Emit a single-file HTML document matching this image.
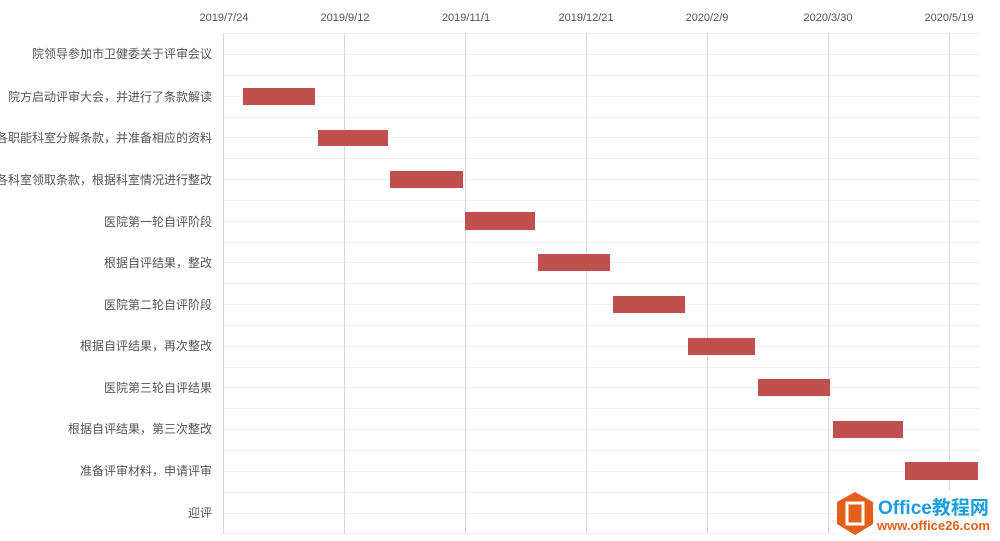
<!DOCTYPE html>
<html><head><meta charset="utf-8"><style>
html,body{margin:0;padding:0;background:#fff;}
svg{display:block;}
text{font-family:"Liberation Sans","Noto Sans CJK SC",sans-serif;}
</style></head><body>
<svg width="1000" height="541" viewBox="0 0 1000 541" xmlns="http://www.w3.org/2000/svg">
<rect width="1000" height="541" fill="#fff"/>
<g stroke="#f0f0f0" stroke-width="1">
<line x1="223" y1="33.5" x2="980" y2="33.5"/>
<line x1="223" y1="54.5" x2="980" y2="54.5"/><line x1="223" y1="75.5" x2="980" y2="75.5"/>
<line x1="223" y1="96.5" x2="980" y2="96.5"/><line x1="223" y1="117.5" x2="980" y2="117.5"/>
<line x1="223" y1="137.5" x2="980" y2="137.5"/><line x1="223" y1="158.5" x2="980" y2="158.5"/>
<line x1="223" y1="179.5" x2="980" y2="179.5"/><line x1="223" y1="200.5" x2="980" y2="200.5"/>
<line x1="223" y1="221.5" x2="980" y2="221.5"/><line x1="223" y1="242.5" x2="980" y2="242.5"/>
<line x1="223" y1="262.5" x2="980" y2="262.5"/><line x1="223" y1="283.5" x2="980" y2="283.5"/>
<line x1="223" y1="304.5" x2="980" y2="304.5"/><line x1="223" y1="325.5" x2="980" y2="325.5"/>
<line x1="223" y1="346.5" x2="980" y2="346.5"/><line x1="223" y1="367.5" x2="980" y2="367.5"/>
<line x1="223" y1="387.5" x2="980" y2="387.5"/><line x1="223" y1="408.5" x2="980" y2="408.5"/>
<line x1="223" y1="429.5" x2="980" y2="429.5"/><line x1="223" y1="450.5" x2="980" y2="450.5"/>
<line x1="223" y1="471.5" x2="980" y2="471.5"/><line x1="223" y1="492.5" x2="980" y2="492.5"/>
<line x1="223" y1="513.5" x2="980" y2="513.5"/><line x1="223" y1="533.5" x2="980" y2="533.5"/>
</g>
<g stroke="#d9d9d9" stroke-width="1">
<line x1="223.5" y1="33" x2="223.5" y2="534"/>
<line x1="344.5" y1="33" x2="344.5" y2="534"/>
<line x1="465.5" y1="33" x2="465.5" y2="534"/>
<line x1="586.5" y1="33" x2="586.5" y2="534"/>
<line x1="707.5" y1="33" x2="707.5" y2="534"/>
<line x1="828.5" y1="33" x2="828.5" y2="534"/>
<line x1="949.5" y1="33" x2="949.5" y2="534"/>
</g>
<g font-size="11" fill="#555" text-anchor="middle">
<text x="224" y="21">2019/7/24</text>
<text x="345" y="21">2019/9/12</text>
<text x="466" y="21">2019/11/1</text>
<text x="586" y="21">2019/12/21</text>
<text x="707" y="21">2020/2/9</text>
<text x="828" y="21">2020/3/30</text>
<text x="949" y="21">2020/5/19</text>
</g>
<g font-size="12" fill="#555" text-anchor="end">
<text x="212" y="58">院领导参加市卫健委关于评审会议</text>
<text x="212" y="101">院方启动评审大会，并进行了条款解读</text>
<text x="212" y="142">各职能科室分解条款，并准备相应的资料</text>
<text x="212" y="184">各科室领取条款，根据科室情况进行整改</text>
<text x="212" y="226">医院第一轮自评阶段</text>
<text x="212" y="267">根据自评结果，整改</text>
<text x="212" y="309">医院第二轮自评阶段</text>
<text x="212" y="350">根据自评结果，再次整改</text>
<text x="212" y="392">医院第三轮自评结果</text>
<text x="212" y="433">根据自评结果，第三次整改</text>
<text x="212" y="475">准备评审材料，申请评审</text>
<text x="212" y="517">迎评</text>
</g>
<g fill="#c0504d">
<rect x="243" y="88" width="72" height="17"/>
<rect x="318" y="130" width="70" height="16"/>
<rect x="390" y="171" width="73" height="17"/>
<rect x="465" y="212" width="70" height="18"/>
<rect x="538" y="254" width="72" height="17"/>
<rect x="613" y="296" width="72" height="17"/>
<rect x="688" y="338" width="67" height="17"/>
<rect x="758" y="379" width="72" height="17"/>
<rect x="833" y="421" width="70" height="17"/>
<rect x="905" y="462" width="73" height="18"/>
</g>
<rect x="834" y="490" width="166" height="51" fill="#fff" opacity="0.85"/>
<polygon points="855,492 873,502 873,524 855,535 837,524 837,502" fill="#e2601c"/>
<rect x="847" y="503" width="16" height="21" fill="none" stroke="#fff" stroke-width="3"/>
<text x="878" y="514" font-size="19" font-weight="bold" fill="#1a9ce0">Office教程网</text>
<text x="877" y="530" font-size="13" font-weight="bold" fill="#e2601c">www.office26.com</text>
</svg>
</body></html>
